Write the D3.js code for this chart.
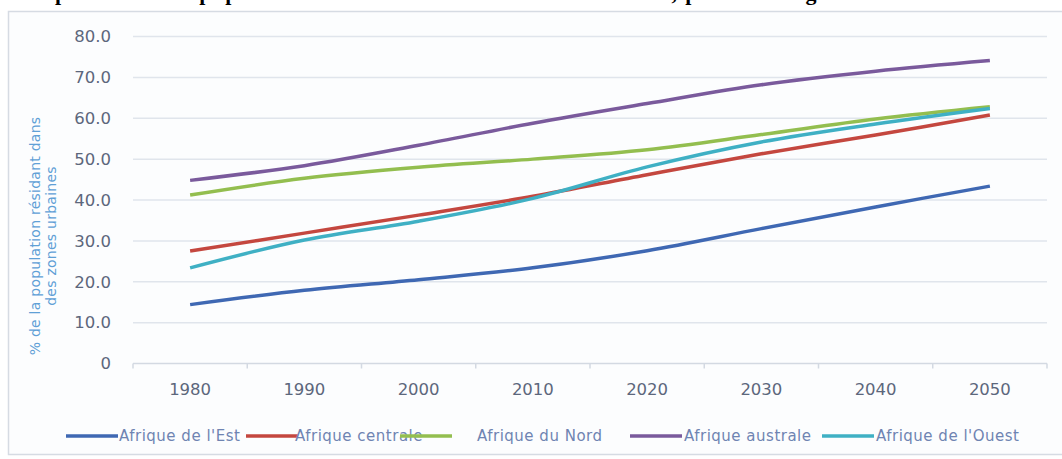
<!DOCTYPE html>
<html>
<head>
<meta charset="utf-8">
<script src="https://cdn.jsdelivr.net/npm/d3@7"></script>
<style>
  html, body { margin: 0; padding: 0; background: #ffffff; }
  svg { display: block; }
</style>
</head>
<body>
<svg id="chart" width="1062" height="459"></svg>
<script>
// Urban population share by African sub-region, 1980–2050
const years = ["1980", "1990", "2000", "2010", "2020", "2030", "2040", "2050"];
const yTicks = [0, 10, 20, 30, 40, 50, 60, 70, 80];

const seriesNames = ["Afrique de l'Est", "Afrique centrale", "Afrique du Nord", "Afrique australe", "Afrique de l'Ouest"];
const afriqueEst      = [14.4, 17.9, 20.5, 23.4, 27.6, 33.0, 38.3, 43.4];
const afriqueCentrale = [27.5, 31.9, 36.3, 40.9, 46.2, 51.3, 55.9, 60.8];
const afriqueNord     = [41.2, 45.3, 48.0, 50.0, 52.3, 56.0, 59.8, 62.8];
const afriqueAustrale = [44.8, 48.4, 53.4, 58.8, 63.6, 68.2, 71.5, 74.1];
const afriqueOuest    = [23.4, 30.2, 34.8, 40.4, 48.1, 54.2, 58.6, 62.4];
const seriesValues = [afriqueEst, afriqueCentrale, afriqueNord, afriqueAustrale, afriqueOuest];
const seriesColors = ["#3f68b3", "#c4473f", "#93be4f", "#7a5a9c", "#3fb0c4"];

const svg = d3.select("#chart");

// Title line (only its lowest part falls inside the page)
svg.append("text")
  .attr("x", 17).attr("y", 0)
  .attr("font-family", "'Liberation Serif', 'Times New Roman', serif")
  .attr("font-weight", "bold")
  .attr("font-size", 22)
  .attr("textLength", 833)
  .attr("lengthAdjust", "spacing")
  .attr("fill", "#000")
  .text("Proportion de la population résidant dans des zones urbaines, par sous-région");

// Chart panel
svg.append("rect")
  .attr("x", 8.5).attr("y", 11.5)
  .attr("width", 1062).attr("height", 443)
  .attr("fill", "#fcfdfe")
  .attr("stroke", "#d6dbe3")
  .attr("stroke-width", 1.5);

const x = d3.scaleBand().domain(years).range([133, 1047]).padding(0);
const y = d3.scaleLinear().domain([0, 80]).range([363.5, 36.5]);

const tickFont = "'DejaVu Sans', Verdana, sans-serif";

// Horizontal gridlines
svg.append("g")
  .selectAll("line")
  .data(yTicks)
  .join("line")
  .attr("x1", 133).attr("x2", 1047)
  .attr("y1", d => y(d)).attr("y2", d => y(d))
  .attr("stroke", d => d === 0 ? "#d3d9e2" : "#e0e5ec")
  .attr("stroke-width", 1.5);

// Y axis labels
const yAxis = d3.axisLeft(y)
  .tickValues(yTicks)
  .tickSize(0)
  .tickPadding(0)
  .tickFormat(d => d === 0 ? "0" : d.toFixed(1));
const gy = svg.append("g").attr("transform", "translate(111,0)").call(yAxis);
gy.select(".domain").remove();
gy.selectAll("text")
  .attr("font-family", tickFont)
  .attr("font-size", 16.5)
  .attr("fill", "#5c677c");

// X axis with tick marks at category boundaries
const xAxis = d3.axisBottom(x).tickSize(0).tickPadding(20);
const gx = svg.append("g").attr("transform", `translate(0,${y(0)})`).call(xAxis);
gx.select(".domain").remove();
gx.selectAll("text")
  .attr("font-family", tickFont)
  .attr("font-size", 16.5)
  .attr("fill", "#5c677c");
svg.append("g")
  .selectAll("line")
  .data(years.concat(["end"]))
  .join("line")
  .attr("x1", (d, i) => 133 + i * x.bandwidth())
  .attr("x2", (d, i) => 133 + i * x.bandwidth())
  .attr("y1", y(0)).attr("y2", y(0) + 5)
  .attr("stroke", "#d3d9e2")
  .attr("stroke-width", 1.5);

// Y axis title
const yTitle = svg.append("text")
  .attr("transform", "translate(40,236) rotate(-90)")
  .attr("text-anchor", "middle")
  .attr("font-family", tickFont)
  .attr("font-size", 14)
  .attr("letter-spacing", 0.25)
  .attr("fill", "#5fa0d6");
yTitle.append("tspan").attr("x", 0).attr("dy", 0).text("% de la population résidant dans");
yTitle.append("tspan").attr("x", 0).attr("dy", 16).text("des zones urbaines");

// Series lines
const line = d3.line()
  .x((d, i) => x(years[i]) + x.bandwidth() / 2)
  .y(d => y(d))
  .curve(d3.curveCatmullRom.alpha(0.5));

svg.append("g")
  .selectAll("path")
  .data(seriesValues)
  .join("path")
  .attr("d", d => line(d))
  .attr("fill", "none")
  .attr("stroke", (d, i) => seriesColors[i])
  .attr("stroke-width", 3.5)
  .attr("stroke-linecap", "butt");

// Legend
const legendItems = [
  { lx: 66, tx: 119 },
  { lx: 246, tx: 295 },
  { lx: 400, tx: 477 },
  { lx: 630, tx: 684 },
  { lx: 822, tx: 876 }
];
const legendY = 436;
const lg = svg.append("g");
legendItems.forEach((it, i) => {
  lg.append("line")
    .attr("x1", it.lx).attr("x2", it.lx + 52)
    .attr("y1", legendY).attr("y2", legendY)
    .attr("stroke", seriesColors[i])
    .attr("stroke-width", 3.5);
  lg.append("text")
    .attr("x", it.tx).attr("y", legendY + 5)
    .attr("font-family", tickFont)
    .attr("font-size", 15)
    .attr("letter-spacing", 0.5)
    .attr("fill", "#6f84b2")
    .text(seriesNames[i]);
});
</script>
</body>
</html>
